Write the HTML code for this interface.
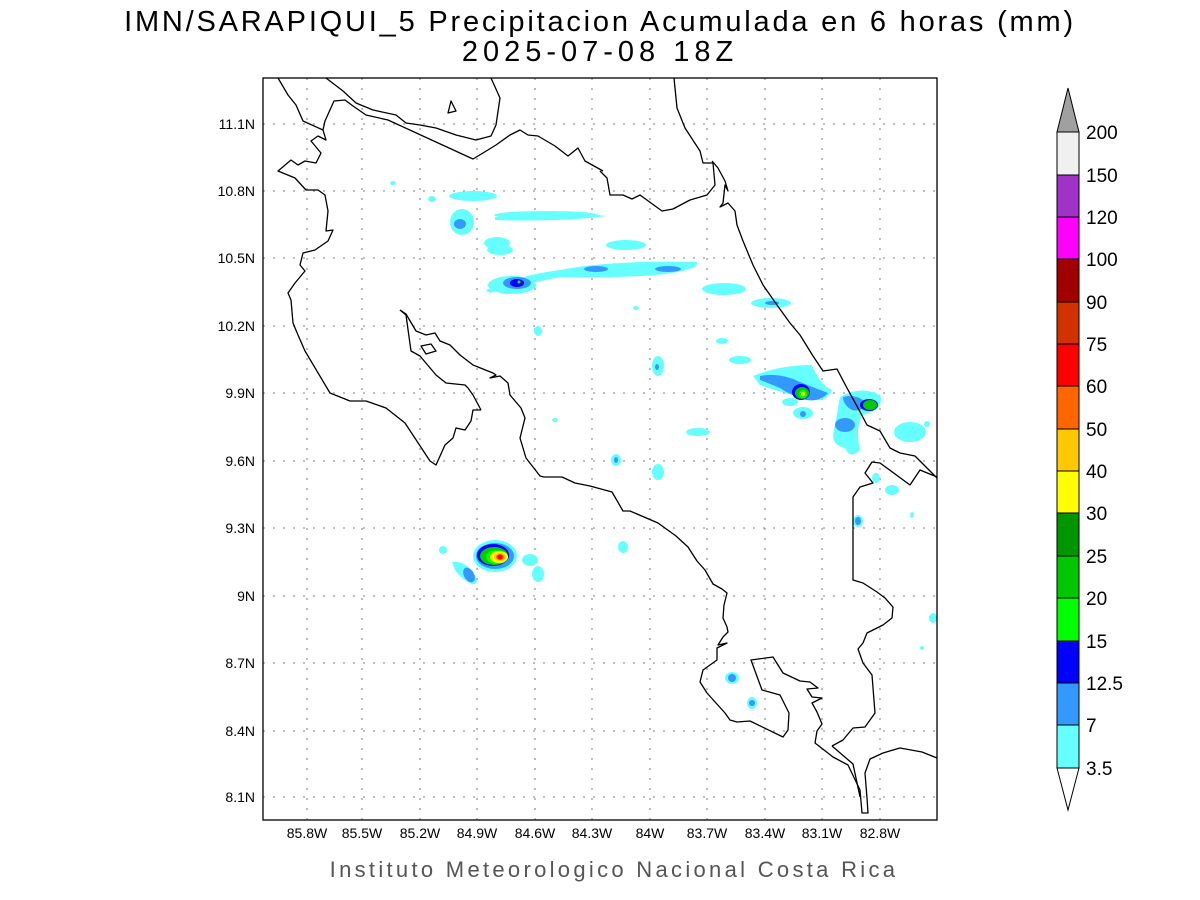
<!DOCTYPE html>
<html><head><meta charset="utf-8"><style>
html,body{margin:0;padding:0;background:#fff;}
svg{display:block;font-family:"Liberation Sans",sans-serif;}
</style></head><body>
<svg width="1200" height="900" viewBox="0 0 1200 900">
<rect width="1200" height="900" fill="#fff"/>
<text x="600" y="31" font-size="29" text-anchor="middle" fill="#000" letter-spacing="2.8">IMN/SARAPIQUI_5 Precipitacion Acumulada en 6 horas (mm)</text>
<text x="600" y="61" font-size="29" text-anchor="middle" fill="#000" letter-spacing="5">2025-07-08 18Z</text>

<g stroke="#999" stroke-width="1.3" stroke-dasharray="2,8" fill="none">
<path d="M307 78V820M362 78V820M420 78V820M477 78V820M535 78V820M592 78V820M650 78V820M707 78V820M765 78V820M822 78V820M880 78V820"/>
<path d="M263 124H937M263 191H937M263 258H937M263 326H937M263 393H937M263 461H937M263 528H937M263 596H937M263 663H937M263 731H937M263 797H937"/>
</g>

<g>
<g fill="#66ffff">
<ellipse cx="473" cy="196" rx="24" ry="5"/>
<ellipse cx="432" cy="199" rx="4" ry="3"/>
<ellipse cx="393" cy="183" rx="3" ry="2"/>
<ellipse cx="462" cy="222" rx="12" ry="13"/>
<path d="M495 217 Q550 210 607 216 Q560 222 495 220Z"/>
<ellipse cx="546" cy="215" rx="52" ry="4"/>
<ellipse cx="497" cy="243" rx="13" ry="6"/>
<ellipse cx="500" cy="250" rx="13" ry="5"/>
<ellipse cx="626" cy="245" rx="20" ry="5"/>
<path d="M486 290 Q520 275 560 270 Q610 260 697 262 Q700 272 640 276 Q600 278 560 277 Q520 285 490 293Z"/>
<ellipse cx="512" cy="285" rx="24" ry="9"/>
<ellipse cx="724" cy="289" rx="22" ry="6"/>
<ellipse cx="771" cy="303" rx="20" ry="5"/>
<ellipse cx="636" cy="308" rx="3" ry="2"/>
<ellipse cx="538" cy="331" rx="4" ry="5"/>
<ellipse cx="658" cy="366" rx="6" ry="10"/>
<ellipse cx="722" cy="341" rx="6" ry="3"/>
<ellipse cx="740" cy="360" rx="11" ry="4"/>
<path d="M753 376 Q780 365 812 365 Q820 385 832 390 Q825 405 805 398 Q780 392 760 385Z"/>
<ellipse cx="790" cy="402" rx="8" ry="4"/>
<ellipse cx="803" cy="413" rx="10" ry="6"/>
<ellipse cx="698" cy="432" rx="12" ry="4"/>
<path d="M840 397 Q860 385 880 395 Q885 410 862 415 Q855 430 860 450 Q850 460 845 448 Q830 445 834 430Z"/>
<ellipse cx="910" cy="432" rx="16" ry="10"/>
<ellipse cx="927" cy="424" rx="3" ry="3"/>
<ellipse cx="555" cy="420" rx="3" ry="2"/>
<ellipse cx="616" cy="460" rx="5" ry="6"/>
<ellipse cx="658" cy="472" rx="6" ry="8"/>
<ellipse cx="623" cy="547" rx="5" ry="6"/>
<ellipse cx="443" cy="550" rx="4" ry="4"/>
<ellipse cx="495" cy="556" rx="22" ry="16"/>
<ellipse cx="530" cy="560" rx="8" ry="6"/>
<ellipse cx="538" cy="574" rx="6" ry="8"/>
<path d="M452 562 Q465 560 475 575 Q480 585 472 584 Q460 578 455 570Z"/>
<ellipse cx="732" cy="678" rx="7" ry="6"/>
<ellipse cx="752" cy="703" rx="5" ry="6"/>
<ellipse cx="858" cy="521" rx="5" ry="6"/>
<ellipse cx="876" cy="478" rx="4" ry="5"/>
<ellipse cx="892" cy="490" rx="7" ry="5"/>
<ellipse cx="912" cy="515" rx="2" ry="3"/>
<ellipse cx="933" cy="618" rx="4" ry="5"/>
<ellipse cx="922" cy="648" rx="2" ry="2"/>
</g>
<g fill="#3399ff">
<ellipse cx="460" cy="224" rx="6" ry="5"/>
<ellipse cx="517" cy="283" rx="14" ry="6"/>
<ellipse cx="596" cy="269" rx="12" ry="3"/>
<ellipse cx="668" cy="269" rx="13" ry="3"/>
<ellipse cx="772" cy="303" rx="7" ry="2"/>
<path d="M760 376 Q780 372 800 382 Q820 390 828 393 Q820 402 806 400 Q790 395 780 388 Q768 383 760 380Z"/>
<ellipse cx="803" cy="414" rx="3" ry="3"/>
<path d="M843 397 Q858 393 868 405 Q860 412 852 410 Q843 405 843 397Z"/>
<ellipse cx="845" cy="425" rx="10" ry="7"/>
<ellipse cx="858" cy="521" rx="3" ry="4"/>
<ellipse cx="616" cy="460" rx="2" ry="3"/>
<ellipse cx="657" cy="367" rx="2" ry="3"/>
<ellipse cx="495" cy="556" rx="19" ry="13"/>
<ellipse cx="469" cy="575" rx="5" ry="8" transform="rotate(-30 469 575)"/>
<ellipse cx="732" cy="678" rx="4" ry="4"/>
<ellipse cx="752" cy="703" rx="3" ry="3"/>
</g>
<g fill="#0000ff">
<ellipse cx="517" cy="283" rx="7" ry="4"/>
<ellipse cx="801" cy="392" rx="9" ry="8"/>
<ellipse cx="869" cy="405" rx="9" ry="6"/>
<ellipse cx="493" cy="555" rx="16" ry="11"/>
</g>
<g fill="#00cc00">
<ellipse cx="802" cy="393" rx="7" ry="6"/>
<ellipse cx="870" cy="405" rx="7" ry="5"/>
<ellipse cx="494" cy="556" rx="14" ry="9"/>
</g>
<g fill="#00ff00"><ellipse cx="803" cy="394" rx="4" ry="4"/><ellipse cx="497" cy="557" rx="11" ry="7"/><ellipse cx="519" cy="282" rx="1.5" ry="1.5"/></g>
<g fill="#ffff00"><ellipse cx="803" cy="394" rx="2" ry="2"/><ellipse cx="499" cy="557" rx="9" ry="6"/></g>
<ellipse cx="500" cy="557" rx="6" ry="4" fill="#ffcc00"/>
<ellipse cx="500" cy="557" rx="4" ry="3" fill="#ff6600"/>
<ellipse cx="500" cy="557" rx="2.5" ry="2.5" fill="#ff0000"/>
</g>

<g fill="none" stroke="#000" stroke-width="1.3" stroke-linejoin="round">
<path d="M278 78 L288 95 296 105 303 121 323 130 326 140 318 136 311 141 321 153 316 163 305 161 298 165 291 160 278 171 295 178 306 190 318 190 325 195 328 211 326 231 333 230 328 241 315 250 303 253 300 265 305 271 295 283 288 293 291 300 293 323 298 335 305 351 330 393 350 401 366 401 386 408 405 423 430 461 436 465 445 445 453 438 456 428 465 430 471 421 473 410 481 410"/>
<path d="M323 130 L325 121 334 101 345 100 353 106 366 115 388 120 473 159 483 153 496 145 510 135 520 130 528 135 538 136 555 146 568 156 578 148 585 161 603 171"/>
<path d="M326 78 L343 91 356 103 373 110 396 115 406 123 420 125 436 128 456 135 476 140 491 136 496 125 500 98 491 78"/>
<path d="M448 113 L451 101 456 111Z"/>
<path d="M400 310 L406 315 411 351 420 356 436 375 446 383 465 385 468 388 473 395 481 410"/>
<path d="M400 310 L406 314 416 331 426 335 435 333 440 341 450 345 460 355 473 365 493 373 496 375 490 378 500 376 508 383 510 395 521 408 525 418 520 438 526 458 540 476 544 477 562 477 575 483 590 486 612 492 623 511 630 511 658 523 676 536 688 547 697 561 705 570 713 584 722 589 727 593 724 605 723 618 727 627 728 632 723 637 718 645 727 643 717 648 717 660 703 670 700 682 707 693 725 713 730 720 737 722 750 721 783 737 788 730 789 713 780 695 762 690 751 660 773 657 783 673 800 681 810 682 818 688 807 689 812 697 822 698 812 703 817 712 822 724 817 731 815 743 833 757 848 765 860 790 862 813 868 813 867 798 865 773 870 759 883 753 900 748 922 752 937 758"/>
<path d="M421 346 L431 344 436 351 426 354Z"/>
<path d="M832 746 L853 764 860 797"/>
<path d="M832 746 L843 740 853 728 865 727 875 713 872 675 863 663 858 649 863 643 867 633 883 625 892 618 893 607 885 598 877 592 863 583 853 580 853 497 860 487 873 483 865 473 872 462 880 463 910 485 920 470 937 477"/>
<path d="M600 171 L607 178 610 195 623 195 632 199 640 195 662 211 673 209 690 200 707 195 715 185 713 163 703 163 700 151 685 128 677 108 674 78"/>
<path d="M712 161 L718 168 725 181 728 191 725 185 723 203 720 207 728 203 735 211 737 225 743 241 753 265 763 285 777 305 790 323 800 335 813 356 823 371 837 369 847 388 858 408 867 425 880 431 890 448 900 453 915 456 930 471 937 478"/>
</g>
<rect x="263" y="78" width="674" height="742" fill="none" stroke="#000" stroke-width="1.3"/>

<g font-size="14" fill="#000" text-anchor="end">
<text x="255" y="129">11.1N</text><text x="255" y="196">10.8N</text><text x="255" y="263">10.5N</text><text x="255" y="331">10.2N</text><text x="255" y="398">9.9N</text><text x="255" y="466">9.6N</text><text x="255" y="533">9.3N</text><text x="255" y="601">9N</text><text x="255" y="668">8.7N</text><text x="255" y="736">8.4N</text><text x="255" y="802">8.1N</text>
</g>
<g font-size="14" fill="#000" text-anchor="middle">
<text x="307" y="838">85.8W</text><text x="362" y="838">85.5W</text><text x="420" y="838">85.2W</text><text x="477" y="838">84.9W</text><text x="535" y="838">84.6W</text><text x="592" y="838">84.3W</text><text x="650" y="838">84W</text><text x="707" y="838">83.7W</text><text x="765" y="838">83.4W</text><text x="822" y="838">83.1W</text><text x="880" y="838">82.8W</text>
</g>
<text x="614" y="877" font-size="22" fill="#555" text-anchor="middle" letter-spacing="3.3">Instituto Meteorologico Nacional Costa Rica</text>

<g stroke="#000" stroke-width="1">
<path d="M1057 132 L1068 88 L1079 132Z" fill="#a0a0a0"/>
<rect x="1057" y="132" width="22" height="43" fill="#f0f0f0"/>
<rect x="1057" y="175" width="22" height="42" fill="#a032c8"/>
<rect x="1057" y="217" width="22" height="42" fill="#ff00ff"/>
<rect x="1057" y="259" width="22" height="43" fill="#a00000"/>
<rect x="1057" y="302" width="22" height="42" fill="#d23200"/>
<rect x="1057" y="344" width="22" height="42" fill="#ff0000"/>
<rect x="1057" y="386" width="22" height="43" fill="#ff6600"/>
<rect x="1057" y="429" width="22" height="42" fill="#ffc800"/>
<rect x="1057" y="471" width="22" height="42" fill="#ffff00"/>
<rect x="1057" y="513" width="22" height="43" fill="#009600"/>
<rect x="1057" y="556" width="22" height="42" fill="#00c800"/>
<rect x="1057" y="598" width="22" height="43" fill="#00ff00"/>
<rect x="1057" y="641" width="22" height="42" fill="#0000ff"/>
<rect x="1057" y="683" width="22" height="42" fill="#3399ff"/>
<rect x="1057" y="725" width="22" height="43" fill="#66ffff"/>
<path d="M1057 768 L1068 810 L1079 768Z" fill="#fff"/>
</g>
<g font-size="19" fill="#000">
<text x="1086" y="139">200</text><text x="1086" y="182">150</text><text x="1086" y="224">120</text><text x="1086" y="266">100</text><text x="1086" y="309">90</text><text x="1086" y="351">75</text><text x="1086" y="393">60</text><text x="1086" y="436">50</text><text x="1086" y="478">40</text><text x="1086" y="520">30</text><text x="1086" y="563">25</text><text x="1086" y="605">20</text><text x="1086" y="648">15</text><text x="1086" y="690">12.5</text><text x="1086" y="732">7</text><text x="1086" y="775">3.5</text>
</g>
</svg>
</body></html>
